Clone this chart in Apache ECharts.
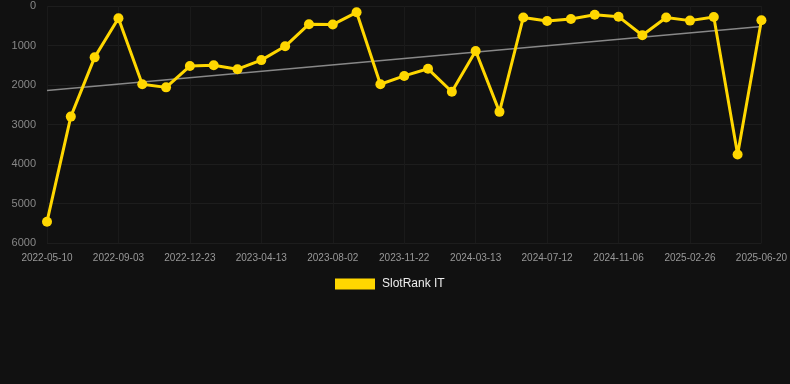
<!DOCTYPE html>
<html>
<head>
<meta charset="utf-8">
<script src="https://cdn.jsdelivr.net/npm/echarts@6/dist/echarts.min.js"></script>
<style>
html,body{margin:0;padding:0;background:#111111;}
#chart{width:790px;height:384px;}
</style>
</head>
<body>
<div id="chart"></div>
<script>
const categories = [
  '2022-05-10','2022-06-17','2022-07-26','2022-09-03','2022-10-10','2022-11-16',
  '2022-12-23','2023-01-29','2023-03-07','2023-04-13','2023-05-20','2023-06-26',
  '2023-08-02','2023-09-08','2023-10-15','2023-11-22','2023-12-29','2024-02-05',
  '2024-03-13','2024-04-22','2024-06-01','2024-07-12','2024-08-20','2024-09-28',
  '2024-11-06','2024-12-13','2025-01-19','2025-02-26','2025-04-04','2025-05-12',
  '2025-06-20'
];
const rankValues = [
  5460, 2800, 1300, 310, 1980, 2060,
  1520, 1500, 1600, 1370, 1020, 460,
  470, 160, 1980, 1770, 1590, 2170,
  1140, 2680, 290, 380, 330, 220,
  270, 740, 290, 370, 280, 3760,
  360
];
const trendStart = 2140;
const trendEnd = 520;
const yTicks = [0, 1000, 2000, 3000, 4000, 5000, 6000];
const seriesName = 'SlotRank IT';

const trendData = [[categories[0], trendStart], [categories[categories.length - 1], trendEnd]];

const chart = echarts.init(document.getElementById('chart'), null, {renderer: 'canvas'});
chart.setOption({
  backgroundColor: '#111111',
  animation: false,
  grid: {left: 47, right: 28, top: 6, bottom: 141, containLabel: false},
  legend: {
    data: [{name: seriesName, icon: 'rect'}],
    top: 273,
    left: 330,
    itemWidth: 40,
    itemHeight: 11,
    itemGap: 10,
    textStyle: {color: '#eeeeee', fontSize: 12, padding: [0, 0, 0, 2], fontFamily: 'Liberation Sans, Arial, sans-serif'}
  },
  xAxis: {
    type: 'category',
    data: categories,
    boundaryGap: false,
    axisLine: {show: false},
    axisTick: {show: false},
    axisLabel: {
      interval: 2,
      color: '#999999',
      fontSize: 10,
      margin: 10,
      fontFamily: 'Liberation Sans, Arial, sans-serif'
    },
    splitLine: {show: true, interval: 2, lineStyle: {color: '#1a1a1a', width: 1}}
  },
  yAxis: {
    type: 'value',
    inverse: true,
    min: yTicks[0],
    max: yTicks[yTicks.length - 1],
    interval: 1000,
    axisLine: {show: false},
    axisTick: {show: false},
    axisLabel: {
      color: '#888888',
      fontSize: 11,
      margin: 11,
      formatter: function (v) { return String(v); },
      fontFamily: 'Liberation Sans, Arial, sans-serif'
    },
    splitLine: {show: true, lineStyle: {color: '#1d1d1d', width: 1}}
  },
  series: [
    {
      name: seriesName,
      type: 'line',
      data: rankValues,
      color: '#FFD700',
      lineStyle: {color: '#FFD700', width: 3},
      itemStyle: {color: '#FFD700'},
      symbol: 'circle',
      symbolSize: 10,
      z: 3
    },
    {
      name: 'trend',
      type: 'line',
      data: trendData,
      symbol: 'none',
      lineStyle: {color: '#888888', width: 1.5},
      z: 2,
      silent: true
    }
  ]
});
</script>
</body>
</html>
